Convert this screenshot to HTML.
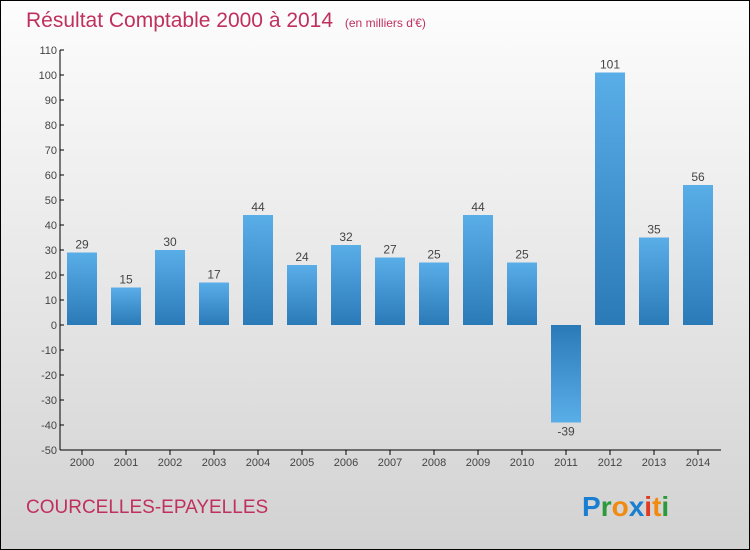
<!DOCTYPE html>
<html><head><meta charset="utf-8"><style>
body{margin:0}
#c{position:relative;width:750px;height:550px;box-sizing:border-box;border:1px solid #000;background:linear-gradient(#fdfdfd,#d2d2d2);font-family:"Liberation Sans",sans-serif;overflow:hidden}
</style></head><body>
<div id="c">
<svg width="750" height="550" style="position:absolute;left:-1px;top:-1px" id="s">
<defs><linearGradient id="g" x1="0" y1="0" x2="0" y2="1"><stop offset="0" stop-color="#5aaee8"/><stop offset="1" stop-color="#2a7ab8"/></linearGradient>
<linearGradient id="gn" x1="0" y1="0" x2="0" y2="1"><stop offset="0" stop-color="#2a7ab8"/><stop offset="1" stop-color="#5aaee8"/></linearGradient></defs>
<text x="26" y="27" font-size="21" fill="#c0305e">Résultat Comptable 2000 à 2014 <tspan font-size="12" dx="6">(en milliers d'€)</tspan></text>
<text x="26" y="513" font-size="19" fill="#c0305e">COURCELLES-EPAYELLES</text>
<text x="582" y="516" font-size="28" font-weight="bold"><tspan fill="#1a7fd0">P</tspan><tspan fill="#2a9a3a">r</tspan><tspan fill="#f08a10">o</tspan><tspan fill="#1a7fd0">x</tspan><tspan fill="#e03a20">i</tspan><tspan fill="#f08a10">t</tspan><tspan fill="#2a9a3a">i</tspan></text>
<g id="ax"></g><g id="bars"></g>
</svg></div>
<script>
const years=["2000","2001","2002","2003","2004","2005","2006","2007","2008","2009","2010","2011","2012","2013","2014"];
const values=[29,15,30,17,44,24,32,27,25,44,25,-39,101,35,56];
const yTicks=[110,100,90,80,70,60,50,40,30,20,10,0,-10,-20,-30,-40,-50];
const NS="http://www.w3.org/2000/svg";
const y=v=>325-(v*2.5);
const x=i=>82+i*44;
const ax=document.getElementById('ax'),bg=document.getElementById('bars');
function mk(t,a,p){const e=document.createElementNS(NS,t);for(const k in a)e.setAttribute(k,a[k]);p.appendChild(e);return e;}
let l=mk('line',{x1:60,y1:50,x2:60,y2:450,stroke:'#000'},ax);


l=mk('line',{x1:60,y1:450,x2:721,y2:450,stroke:'#000'},ax);


yTicks.forEach(v=>{mk('line',{x1:60,y1:y(v),x2:64,y2:y(v),stroke:'#000'},ax);
const t=mk('text',{x:57,y:y(v)+4,'font-size':11,fill:'#444','text-anchor':'end'},ax);t.textContent=v;

});
years.forEach((yr,i)=>{mk('line',{x1:x(i),y1:450,x2:x(i),y2:455,stroke:'#000'},ax);
const t=mk('text',{x:x(i),y:466,'font-size':11,fill:'#444','text-anchor':'middle'},ax);t.textContent=yr;


const v=values[i];const top=Math.min(y(v),y(0)),h=Math.abs(y(v)-y(0));
const r=mk('rect',{x:x(i)-15,y:top,width:30,height:h,fill:v<0?'url(#gn)':'url(#g)'},bg);


const lb=mk('text',{x:x(i),y:v<0?y(v)+13:y(v)-4,'font-size':12,fill:'#444','text-anchor':'middle'},bg);lb.textContent=v;

});
</script>
</body></html>
